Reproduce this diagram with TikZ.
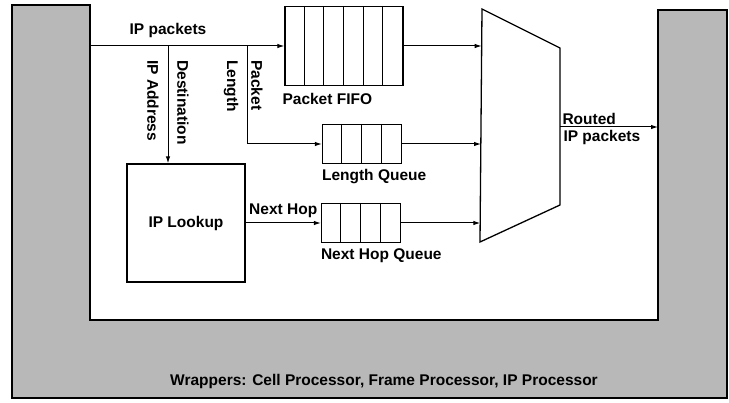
\documentclass[tikz,border=0pt]{standalone}
\usepackage{fontspec}
\setmainfont{Liberation Sans}
\usetikzlibrary{arrows.meta, positioning}
\definecolor{wrapgray}{RGB}{184,184,184}
\tikzset{
  unit/.style={rectangle, draw=black, line width=1.3pt, fill=white,
               inner sep=0pt},
  queue/.style={unit, minimum width=79pt, minimum height=39pt},
  vlbl/.style={rotate=-90, anchor=west, inner sep=0pt},
  qlbl/.style={inner sep=0pt},
  arr/.style={-{Latex[length=7pt, width=4.5pt]}, line width=1pt},
}

\begin{document}
\begin{tikzpicture}[x=1pt, y=-1pt,
    every node/.style={font=\fontsize{15.5}{17}\selectfont\bfseries}]
  \useasboundingbox (0,0) rectangle (729,403);

  \draw[line width=1.3pt, fill=wrapgray]
    (12,5) -- (90,5) -- (90,320) -- (658,320) -- (658,10)
    -- (727,10) -- (727,398) -- (12,398) -- cycle;
  \coordinate (wrapin)  at (90,46);
  \coordinate (wrapout) at (658,127);
  \node (wraplbl) at (384,381) {Wrappers: Cell Processor, Frame Processor, IP Processor};

  \node[unit, minimum width=118pt, minimum height=79pt] (fifo) at (344,46) {};
  \node[queue]                      (lenq)   at (362,144) {};
  \node[queue]                      (hopq)   at (361,223) {};
  \node[unit, minimum width=118pt, minimum height=118pt] (lookup) at (186,223) {IP Lookup};
  \foreach \k in {1,...,5}
    \draw[line width=1pt] ([xshift=\k*19.67pt]fifo.north west) -- ([xshift=\k*19.67pt]fifo.south west);
  \foreach \k in {1,2,3} {
    \draw[line width=1pt] ([xshift=\k*19.75pt]lenq.north west) -- ([xshift=\k*19.75pt]lenq.south west);
    \draw[line width=1pt] ([xshift=\k*19.75pt]hopq.north west) -- ([xshift=\k*19.75pt]hopq.south west);
  }
  \node[qlbl, below right=7pt and -2pt of fifo.south west] (fifolbl) {Packet FIFO};
  \node[qlbl, below right=5pt and 0pt of lenq.south west]  (lenlbl)  {Length Queue};
  \node[qlbl, below right=5pt and 0pt of hopq.south west]  (hoplbl)  {Next Hop Queue};

  \draw[line width=1.3pt, fill=white] (482,9) -- (560,48) -- (560,205) -- (480,242) -- cycle;
  \coordinate (muxin1) at (481.7,46);
  \coordinate (muxin2) at (481,144);
  \coordinate (muxin3) at (480.3,223);
  \coordinate (muxout) at (560,127);

  \coordinate (tapdst) at (168,46);
  \coordinate (taplen) at (247,46);
  \node[above=5pt of tapdst] (pktlbl) {IP packets};
  \node[vlbl] (addrlbl) at (153,60) {IP Address};
  \node[vlbl] (dstlbl)  at (183,60) {Destination};
  \node[vlbl] (lenglbl) at (231,60) {Length};
  \node[vlbl] (pkt2lbl) at (257,60) {Packet};

  \draw[arr] (wrapin) -- (fifo.west);
  \draw[arr] (tapdst) -- (tapdst |- lookup.north);
  \draw[arr] (taplen) |- (lenq.west);
  \draw[arr] (lookup) -- node[above=1pt] (hoplbl2) {Next Hop} (hopq);
  \draw[arr] (fifo.east) -- (muxin1);
  \draw[arr] (lenq.east) -- (muxin2);
  \draw[arr] (hopq.east) -- (muxin3);
  \draw[arr] (muxout) -- node[pos=0, anchor=south west, inner sep=2pt] (routlbl) {Routed}
                         node[pos=0, anchor=north west, inner sep=3pt] (routlbl2) {IP packets} (wrapout);
\end{tikzpicture}
\end{document}
